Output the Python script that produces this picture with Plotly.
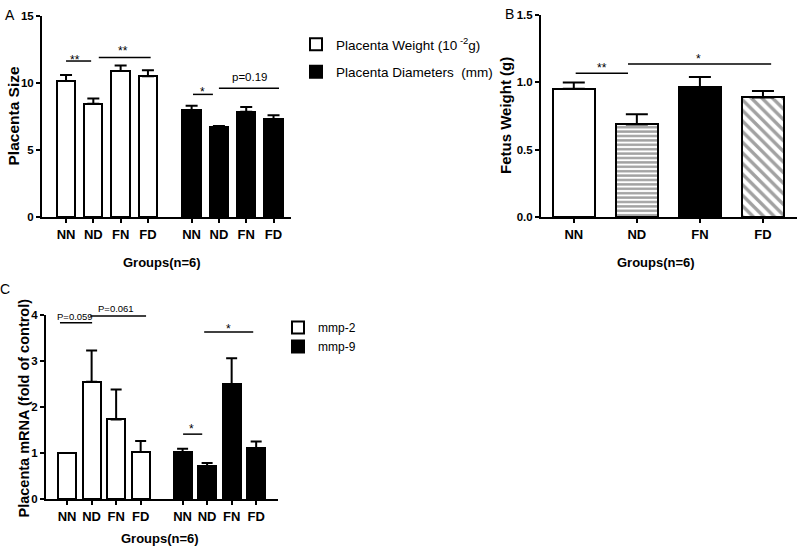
import plotly.graph_objects as go

FONT = "Liberation Sans, Arial, sans-serif"

# ---------------- data ----------------
groups = ["NN", "ND", "FN", "FD"]

# Panel A: placenta size
a_weight = [10.15, 8.45, 10.9, 10.5]
a_weight_err = [0.45, 0.4, 0.4, 0.45]
a_diam = [7.95, 6.72, 7.85, 7.3]
a_diam_err = [0.35, 0.08, 0.35, 0.3]

# Panel B: fetus weight
b_weight = [0.953, 0.687, 0.963, 0.888]
b_weight_err = [0.045, 0.076, 0.077, 0.047]

# Panel C: placenta mRNA
c_mmp2 = [1.0, 2.55, 1.73, 1.02]
c_mmp2_err = [0.0, 0.68, 0.65, 0.24]
c_mmp9 = [1.02, 0.72, 2.49, 1.11]
c_mmp9_err = [0.07, 0.06, 0.57, 0.14]

# significance marks: (x_start, x_end, y_line, label, x_text)
sig_a = [(0.0, 0.92, 11.64, "**", 0.33),
         (1.2, 3.1, 11.9, "**", 2.09),
         (4.65, 5.38, 9.15, "*", 5.0),
         (5.6, 7.8, 9.6, "p=0.19", 6.74)]
sig_b = [(0.03, 0.86, 1.067, "**", 0.44),
         (0.86, 3.13, 1.137, "*", 1.98)]
sig_c = [(-0.29, 1.02, 3.83, "P=0.059", 0.33),
         (0.94, 3.22, 3.98, "P=0.061", 2.0),
         (4.73, 5.51, 1.41, "*", 5.09),
         (5.59, 7.59, 3.63, "*", 6.57)]

# label offsets above their lines (pixels, styling only)
shift_a = [1, 7, 2, 11]
shift_b = [5, 5]
shift_c = [6, 7.5, 5, 3]

# ---------------- helpers ----------------
def positions(group_index, gap):
    return [i + group_index * (len(groups) + gap) for i in range(len(groups))]

a_pos0, a_pos1 = positions(0, 0.6), positions(1, 0.6)
c_pos0, c_pos1 = positions(0, 0.71), positions(1, 0.71)
b_pos = positions(0, 0)

W, H = 800, 553
def px(x):
    return x / W
def py(y):
    return 1 - y / H

fig = go.Figure()

def err(arr, width):
    return dict(type="data", array=arr, arrayminus=[0] * len(arr), symmetric=False,
                color="black", thickness=2, width=width, visible=True)

# Panel A
fig.add_trace(go.Bar(x=a_pos0, y=a_weight, error_y=err(a_weight_err, 6), width=0.67,
                     marker=dict(color="white", line=dict(color="black", width=2)),
                     name="Placenta Weight (10<sup> -2</sup>g)", legend="legend", legendgroup="a1",
                     xaxis="x", yaxis="y"))
fig.add_trace(go.Bar(x=a_pos1, y=a_diam, error_y=err(a_diam_err, 6), width=0.67,
                     marker=dict(color="black", line=dict(color="black", width=2)),
                     name="Placenta Diameters  (mm)", legend="legend", legendgroup="a2",
                     xaxis="x", yaxis="y"))

# Panel B
fig.add_trace(go.Bar(x=b_pos, y=b_weight, error_y=err(b_weight_err, 11), width=0.67,
                     marker=dict(color=["white", "white", "black", "white"],
                                 line=dict(color="black", width=2),
                                 pattern=dict(shape=["", "-", "", "\\"], fgcolor="black",
                                              size=[6, 4.4, 6, 7.5], solidity=[0.3, 0.55, 0.3, 0.45])),
                     showlegend=False, xaxis="x2", yaxis="y2"))

# Panel C
fig.add_trace(go.Bar(x=c_pos0, y=c_mmp2, error_y=err(c_mmp2_err, 5.5), width=0.73,
                     marker=dict(color="white", line=dict(color="black", width=2)),
                     name="mmp-2", legend="legend2", legendgroup="c1",
                     xaxis="x3", yaxis="y3"))
fig.add_trace(go.Bar(x=c_pos1, y=c_mmp9, error_y=err(c_mmp9_err, 5.5), width=0.73,
                     marker=dict(color="black", line=dict(color="black", width=2)),
                     name="mmp-9", legend="legend2", legendgroup="c2",
                     xaxis="x3", yaxis="y3"))

# significance lines & labels
shapes = []
annotations = []
def add_sig(sigs, shifts, xr, yr, size_star, size_p):
    for (x0, x1, y, lab, tx), sh in zip(sigs, shifts):
        shapes.append(dict(type="line", xref=xr, yref=yr, x0=x0, x1=x1, y0=y, y1=y,
                           line=dict(color="black", width=1.5)))
        annotations.append(dict(x=tx, y=y, xref=xr, yref=yr, text=lab, showarrow=False,
                                yanchor="middle", xanchor="center", yshift=sh,
                                font=dict(family=FONT, size=size_star if "*" in lab else size_p,
                                          color="black")))
add_sig(sig_a, shift_a, "x", "y", 12, 11.5)
add_sig(sig_b, shift_b, "x2", "y2", 12, 11.5)
add_sig(sig_c, shift_c, "x3", "y3", 12, 9.5)

# titles & panel letters
def txt(text, x, y, size, bold=False, angle=0):
    annotations.append(dict(x=px(x), y=py(y), xref="paper", yref="paper", text=text,
                            showarrow=False, textangle=angle, xanchor="center", yanchor="middle",
                            font=dict(family=FONT, size=size, color="black",
                                      weight="bold" if bold else "normal")))

txt("A", 10, 15, 14)
txt("B", 509, 14, 14)
txt("C", 5, 289, 14)
txt("Placenta Size", 12.5, 116, 15.5, True, -90)
txt("Fetus Weight (g)", 505, 116, 15, True, -90)
txt("Placenta mRNA (fold of control)", 23.5, 408, 14.5, True, -90)
txt("Groups(n=6)", 162, 262, 13, True)
txt("Groups(n=6)", 656, 262, 13, True)
txt("Groups(n=6)", 160, 538, 13, True)

axis_common = dict(showline=True, linecolor="black", linewidth=2, ticks="outside",
                   ticklen=4, tickwidth=2, tickcolor="black", showgrid=False,
                   zeroline=False, automargin=False, fixedrange=True)
xfont = dict(family=FONT, size=13, color="black", weight="bold")
yfont = dict(family=FONT, size=11.5, color="black", weight="bold")

fig.update_layout(
    width=W, height=H, margin=dict(l=0, r=0, t=0, b=0),
    paper_bgcolor="white", plot_bgcolor="white",
    bargap=0, barmode="overlay",
    font=dict(family=FONT, color="black"),
    xaxis=dict(domain=[px(42), px(291)], range=[-0.88, 8.24], anchor="y",
               tickvals=a_pos0 + a_pos1, ticktext=groups + groups, tickfont=xfont, **axis_common),
    yaxis=dict(domain=[py(217), py(16)], range=[0, 15], anchor="x",
               tickvals=[0, 5, 10, 15], tickfont=yfont, **axis_common),
    xaxis2=dict(domain=[px(541), px(797)], range=[-0.52, 3.54], anchor="y2",
                tickvals=b_pos, ticktext=groups, tickfont=xfont, **axis_common),
    yaxis2=dict(domain=[py(217), py(15)], range=[0, 1.5], anchor="x2",
                tickvals=[0, 0.5, 1.0, 1.5], ticktext=["0.0", "0.5", "1.0", "1.5"],
                tickfont=yfont, **axis_common),
    xaxis3=dict(domain=[px(46), px(278)], range=[-0.86, 8.6], anchor="y3",
                tickvals=c_pos0 + c_pos1, ticktext=groups + groups, tickfont=xfont, **axis_common),
    yaxis3=dict(domain=[py(499), py(315)], range=[0, 4], anchor="x3",
                tickvals=[0, 1, 2, 3, 4], tickfont=yfont, **axis_common),
    legend=dict(x=px(296), xanchor="left", y=py(29), yanchor="top",
                font=dict(family=FONT, size=13.5, color="black"),
                bgcolor="rgba(0,0,0,0)", tracegroupgap=7, traceorder="grouped"),
    legend2=dict(x=px(278), xanchor="left", y=py(313), yanchor="top",
                 font=dict(family=FONT, size=12, color="black"),
                 bgcolor="rgba(0,0,0,0)", traceorder="normal"),
    shapes=shapes, annotations=annotations,
)

fig.write_html("out.html", config={"displayModeBar": False},
               post_script="document.body.style.margin='0';document.body.style.padding='0';")
